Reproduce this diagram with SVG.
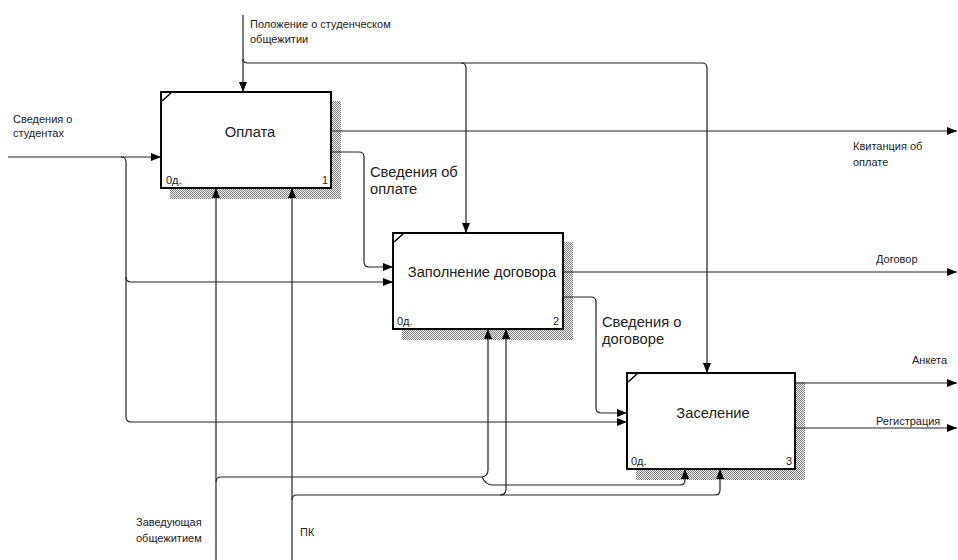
<svg xmlns="http://www.w3.org/2000/svg" width="958" height="560" viewBox="0 0 958 560">
<style>
.box{fill:#fff;stroke:#000;stroke-width:2}
.shadow{fill:url(#hatch)}
.c{fill:none;stroke:#222;stroke-width:1.2}
.a{marker-end:url(#arr)}
.sm{font-family:"Liberation Sans",Arial,sans-serif;font-size:11px;fill:#222}
.lg{font-family:"Liberation Sans",Arial,sans-serif;font-size:14.7px;fill:#222}
.num{font-family:"Liberation Sans",Arial,sans-serif;font-size:11px;fill:#222}
.tick{stroke:#000;stroke-width:1.5}
</style>
<defs>
<pattern id="hatch" width="2" height="2" patternUnits="userSpaceOnUse">
<rect width="2" height="2" fill="#f2f2f2"/>
<rect width="1" height="1" fill="#808080"/>
<rect x="1" y="1" width="1" height="1" fill="#808080"/>
</pattern>
<marker id="arr" markerUnits="userSpaceOnUse" markerWidth="10" markerHeight="8" refX="10" refY="4" orient="auto">
<path d="M0,0 L10,4 L0,8 z" fill="#000"/>
</marker>
</defs>
<rect width="958" height="560" fill="#fff"/>

<g id="node1">
<rect class="shadow" x="170" y="101" width="171" height="98"/>
<rect class="box" x="161" y="92" width="170" height="96"/>
<line class="tick" x1="162" y1="101" x2="171" y2="93"/>
<text class="lg" x="250" y="137" text-anchor="middle">Оплата</text>
<text class="num" x="166" y="184">0д.</text>
<text class="num" x="328" y="184" text-anchor="end">1</text>
</g>

<g id="node2">
<rect class="shadow" x="402" y="242" width="171" height="98"/>
<rect class="box" x="393" y="233" width="170" height="96"/>
<line class="tick" x1="394" y1="242" x2="403" y2="234"/>
<text class="lg" x="482" y="277" text-anchor="middle">Заполнение договора</text>
<text class="num" x="397" y="325">0д.</text>
<text class="num" x="559" y="325" text-anchor="end">2</text>
</g>

<g id="node3">
<rect class="shadow" x="636" y="382" width="169" height="98"/>
<rect class="box" x="627" y="373" width="168" height="96"/>
<line class="tick" x1="628" y1="382" x2="637" y2="374"/>
<text class="lg" x="713" y="418" text-anchor="middle">Заселение</text>
<text class="num" x="631" y="465">0д.</text>
<text class="num" x="792" y="465" text-anchor="end">3</text>
</g>

<g id="connectors">
<path class="c a" d="M243,15 V92"/>
<path class="c a" d="M243,59 Q243,63 248,63 H461 Q466,63 466,68 V233"/>
<path class="c a" d="M461,63 H702 Q707,63 707,68 V373"/>
<path class="c a" d="M8,157 H161"/>
<path class="c a" d="M121,157 Q126,157 126,162 V417 Q126,422 131,422 H627"/>
<path class="c a" d="M126,277 Q126,282 131,282 H393"/>
<path class="c a" d="M331,152 H359 Q364,152 364,157 V262 Q364,267 369,267 H393"/>
<path class="c a" d="M331,131 H957"/>
<path class="c a" d="M563,272 H957"/>
<path class="c a" d="M563,297 H591 Q596,297 596,302 V408 Q596,413 601,413 H627"/>
<path class="c a" d="M795,383 H957"/>
<path class="c a" d="M795,428 H957"/>
<path class="c a" d="M216,560 V188"/>
<path class="c" d="M216,482 Q216,477 221,477 H482"/>
<path class="c a" d="M482,477 Q488,476 488,470 V329"/>
<path class="c a" d="M482,477 Q486,485 492,485 H680 Q685,485 685,480 V469"/>
<path class="c a" d="M292,560 V188"/>
<path class="c a" d="M292,500 Q292,495 297,495 H715 Q720,495 720,490 V469"/>
<path class="c a" d="M500,495 Q506,495 506,489 V329"/>
</g>

<g id="labels">
<text class="sm" x="250" y="28">Положение о студенческом</text>
<text class="sm" x="250" y="43">общежитии</text>
<text class="sm" x="13" y="123">Сведения о</text>
<text class="sm" x="13" y="137">студентах</text>
<text class="sm" x="853" y="150">Квитанция об</text>
<text class="sm" x="853" y="166">оплате</text>
<text class="sm" x="876" y="263">Договор</text>
<text class="sm" x="912" y="364">Анкета</text>
<text class="sm" x="876" y="425">Регистрация</text>
<text class="sm" x="136" y="526">Заведующая</text>
<text class="sm" x="136" y="542">общежитием</text>
<text class="sm" x="300" y="536">ПК</text>
<text class="lg" x="370" y="177">Сведения об</text>
<text class="lg" x="370" y="194">оплате</text>
<text class="lg" x="602" y="327">Сведения о</text>
<text class="lg" x="602" y="344">договоре</text>
</g>
</svg>
